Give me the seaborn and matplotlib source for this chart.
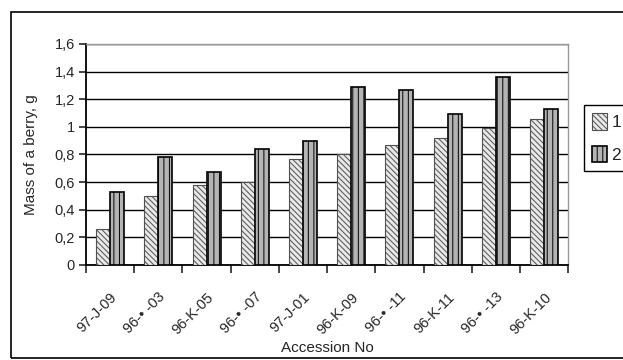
import seaborn as sns
import matplotlib.pyplot as plt
import pandas as pd
from matplotlib.patches import Rectangle

# data
accessions = ["97-J-09", "96-• -03", "96-K-05", "96-• -07", "97-J-01",
              "96-K-09", "96-• -11", "96-K-11", "96-• -13", "96-K-10"]
series_1 = [0.26, 0.50, 0.58, 0.60, 0.77, 0.80, 0.87, 0.92, 0.99, 1.06]
series_2 = [0.53, 0.78, 0.67, 0.84, 0.90, 1.29, 1.27, 1.09, 1.36, 1.13]
y_ticks = [0, 0.2, 0.4, 0.6, 0.8, 1, 1.2, 1.4, 1.6]
y_tick_labels = ["0", "0,2", "0,4", "0,6", "0,8", "1", "1,2", "1,4", "1,6"]

df = pd.DataFrame({
    "accession": accessions * 2,
    "mass": series_1 + series_2,
    "series": ["1"] * len(accessions) + ["2"] * len(accessions),
})

sns.set_style("white")
plt.rcParams["font.family"] = ["Liberation Sans Narrow", "Liberation Sans", "DejaVu Sans"]
plt.rcParams["hatch.linewidth"] = 0.7

fig = plt.figure(figsize=(6.23, 3.6), dpi=100)
ax = fig.add_axes([0.138, 0.264, 0.774, 0.614])

sns.barplot(data=df, x="accession", y="mass", hue="series", order=accessions,
            palette=["#e8e8e8", "#b4b4b4"], width=0.58, errorbar=None,
            ax=ax, zorder=3)

# hatch the two series like the original print
styles = [dict(hatch="\\\\\\\\\\\\", ec="#505050", lw=0.8),
          dict(hatch="|||", ec="black", lw=1.2)]
for cont, st in zip(ax.containers, styles):
    for bar in cont:
        bar.set_hatch(st["hatch"])
        bar.set_edgecolor(st["ec"])
        bar.set_linewidth(st["lw"])

ax.set_ylim(0, 1.6)
ax.set_yticks(y_ticks)
ax.set_yticklabels(y_tick_labels, fontsize=10.5)
ax.yaxis.grid(True, color="black", lw=1.0, zorder=0)
ax.set_axisbelow(True)

n = len(accessions)
ax.set_xlim(-0.5, n - 0.5)
ax.set_xticks([i - 0.5 for i in range(n + 1)])
ax.set_xticklabels([""] * (n + 1))
ax.set_xticks(range(n), minor=True)
ax.set_xticklabels(accessions, minor=True, rotation=45, ha="right",
                   rotation_mode="anchor", fontsize=10.5)
ax.tick_params(axis="x", which="major", direction="out", length=6, width=1.2, bottom=True)
ax.tick_params(axis="x", which="minor", length=0, pad=18)
ax.tick_params(axis="y", direction="out", length=5, width=1.2, left=True, pad=3)

for side in ["left", "bottom"]:
    ax.spines[side].set_color("black")
    ax.spines[side].set_linewidth(1.3)
for side in ["top", "right"]:
    ax.spines[side].set_visible(True)
    ax.spines[side].set_color("#999999")
    ax.spines[side].set_linewidth(1.0)

ax.set_xlabel("Accession No", fontsize=11, labelpad=3)
ax.set_ylabel("Mass of a berry, g", fontsize=11, labelpad=12)

ax.get_legend().remove()
fig.legend(handles=[c[0] for c in ax.containers], labels=["1", "2"],
           loc="upper left", bbox_to_anchor=(0.938, 0.708), borderaxespad=0,
           fontsize=12.5, frameon=True, fancybox=False, edgecolor="black",
           framealpha=1, handlelength=0.85, handleheight=1.1, handletextpad=0.25,
           labelspacing=0.9, borderpad=0.45)

# outer chart frame
fig.patches.append(Rectangle((0.017, 0.006), 0.985, 0.961, transform=fig.transFigure,
                             fill=False, ec="black", lw=1.2))

fig.savefig("out.png", dpi=100)
